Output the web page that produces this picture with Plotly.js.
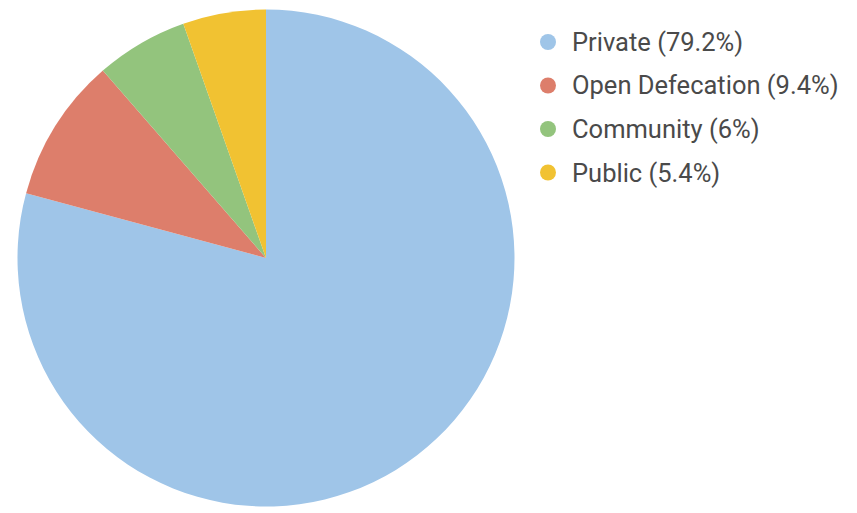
<!DOCTYPE html>
<html><head><meta charset="utf-8">
<script src="https://cdn.plot.ly/plotly-3.0.1.min.js"></script>
<style>html,body{margin:0;padding:0;background:#fff}#chart{width:857px;height:513px}</style>
</head><body><div id="chart"></div>
<script>
const labels = ["Private", "Open Defecation", "Community", "Public"];
const values = [79.2, 9.4, 6, 5.4];
const colors = ["#9FC5E8", "#DD7E6B", "#93C47D", "#F1C232"];

const W = 857, H = 513;
const cx = 266, cy = 258, r = 248.5;
const legX = 548, legY0 = 42, legDy = 43.5;

const shapes = [], annotations = [];
labels.forEach((l, i) => {
  const y = legY0 + i * legDy;
  shapes.push({type: "circle", xref: "paper", yref: "paper", xsizemode: "pixel", ysizemode: "pixel",
    xanchor: legX / W, yanchor: 1 - y / H, x0: -8, x1: 8, y0: -8, y1: 8,
    fillcolor: colors[i], line: {width: 0}});
  annotations.push({xref: "paper", yref: "paper", x: (legX + 22) / W, y: 1 - y / H,
    xanchor: "left", yanchor: "middle", showarrow: false,
    text: l + " (" + values[i] + "%)", font: {family: "Roboto", size: 25.5, color: "#4a4a4a"}});
});

Plotly.newPlot("chart", [{
  type: "pie", labels: labels, values: values, sort: false, direction: "clockwise", rotation: 0,
  marker: {colors: colors, line: {width: 0}}, textinfo: "none", hoverinfo: "none",
  domain: {x: [(cx - r) / W, (cx + r) / W], y: [1 - (cy + r) / H, 1 - (cy - r) / H]}
}], {
  width: W, height: H, margin: {l: 0, r: 0, t: 0, b: 0}, showlegend: false,
  paper_bgcolor: "#fff", shapes: shapes, annotations: annotations
}, {displayModeBar: false, staticPlot: true});
</script></body></html>
